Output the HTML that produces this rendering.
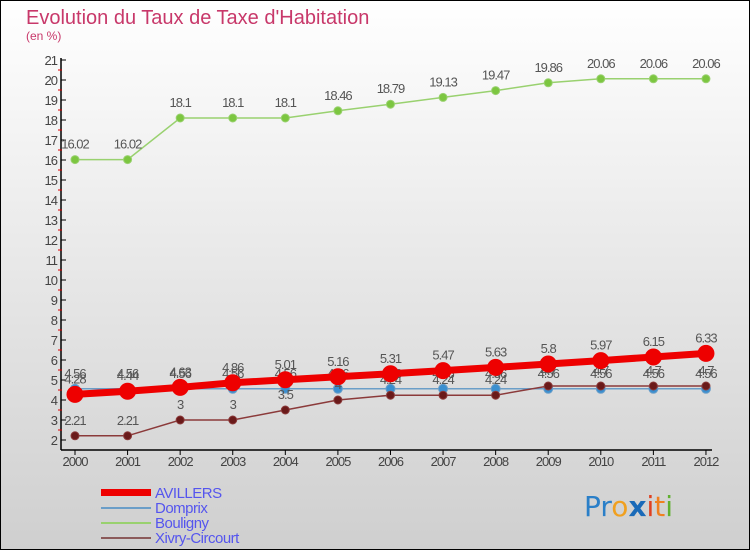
<!DOCTYPE html>
<html><head><meta charset="utf-8"><style>
body{margin:0;width:750px;height:550px;overflow:hidden;font-family:"Liberation Sans",sans-serif}
svg{display:block}
</style></head><body>
<svg id="c" width="750" height="550" xmlns="http://www.w3.org/2000/svg">
<defs><linearGradient id="bg" x1="0" y1="0" x2="0" y2="1"><stop offset="0" stop-color="#ffffff"/><stop offset="1" stop-color="#cfcfcf"/></linearGradient></defs>
<rect x="0.5" y="0.5" width="749" height="549" fill="url(#bg)" stroke="#000"/>
<text x="26" y="24" font-size="20" fill="#c8386a">Evolution du Taux de Taxe d'Habitation</text>
<text x="26" y="40" font-size="12" fill="#c8386a">(en %)</text>
<g id="axes"></g><g id="series"></g>
<g>
<rect x="101" y="489" width="50" height="7" fill="#ee0000"/>
<line x1="101" y1="508" x2="151" y2="508" stroke="#6b9ec8" stroke-width="2"/>
<line x1="101" y1="523" x2="151" y2="523" stroke="#99d16f" stroke-width="2"/>
<line x1="101" y1="538" x2="151" y2="538" stroke="#8b5a5a" stroke-width="2"/>
<g font-size="15" fill="#5555ee" letter-spacing="-0.5">
<text x="155" y="498">AVILLERS</text>
<text x="155" y="513">Domprix</text>
<text x="155" y="528">Bouligny</text>
<text x="155" y="543">Xivry-Circourt</text>
</g></g>
<g font-size="28" font-family="'DejaVu Sans',sans-serif">
<text x="584" y="516"><tspan fill="#2a7fc8">Pr</tspan><tspan fill="#f0a020">o</tspan><tspan fill="#1a6ab8" font-weight="bold">x</tspan><tspan fill="#e04020">i</tspan><tspan fill="#f08020">t</tspan><tspan fill="#60b030">i</tspan></text>
</g>
</svg>
<script>
const years=["2000","2001","2002","2003","2004","2005","2006","2007","2008","2009","2010","2011","2012"];
const yTicks=[2,3,4,5,6,7,8,9,10,11,12,13,14,15,16,17,18,19,20,21];
const avillers=[4.28,4.44,4.63,4.86,5.01,5.16,5.31,5.47,5.63,5.8,5.97,6.15,6.33];
const domprix=[4.56,4.56,4.56,4.56,4.56,4.56,4.56,4.56,4.56,4.56,4.56,4.56,4.56];
const bouligny=[16.02,16.02,18.1,18.1,18.1,18.46,18.79,19.13,19.47,19.86,20.06,20.06,20.06];
const xivry=[2.21,2.21,3,3,3.5,4,4.24,4.24,4.24,4.7,4.7,4.7,4.7];
const NS="http://www.w3.org/2000/svg";
const xS=i=>75+i*52.58, yS=v=>440-(v-2)*20;
function mk(t,a,p){const e=document.createElementNS(NS,t);for(const k in a)e.setAttribute(k,a[k]);p.appendChild(e);return e;}
const ax=document.getElementById('axes');
let l=mk('line',{x1:61,y1:58,x2:61,y2:450,stroke:'#000','stroke-width':1.5},ax);


l=mk('line',{x1:61,y1:450,x2:712,y2:450,stroke:'#000','stroke-width':1.5},ax);


yTicks.forEach(v=>{const y=yS(v);
 mk('line',{x1:61,y1:y,x2:66,y2:y,stroke:'#000'},ax);
 if(v<21)mk('line',{x1:58,y1:y-10,x2:62,y2:y-10,stroke:'#e00000'},ax);
 const t=mk('text',{x:57,y:y+5,'font-size':13,fill:'#444','text-anchor':'end','letter-spacing':'-1'},ax);t.textContent=v;
 
 
});
years.forEach((yr,i)=>{const x=xS(i);
 mk('line',{x1:x,y1:450,x2:x,y2:455,stroke:'#000'},ax);
 const t=mk('text',{x:x,y:466,'font-size':13,fill:'#444','text-anchor':'middle','letter-spacing':'-1'},ax);t.textContent=yr;
 
 
});
const sg=document.getElementById('series');
function series(name,vals,color,w,r,dot){
 const g=mk('g',{},sg);
 
 
 mk('polyline',{points:vals.map((v,i)=>xS(i)+','+yS(v)).join(' '),fill:'none',stroke:color,'stroke-width':w},g);
 vals.forEach((v,i)=>{const c=mk('circle',{cx:xS(i),cy:yS(v),r:r,fill:dot,stroke:color,'stroke-width':1},g);
  
  
  const t=mk('text',{x:xS(i),y:yS(v)-11,'font-size':13,fill:'#555','text-anchor':'middle','letter-spacing':'-1'},g);t.textContent=v;
  
  
 });
}
series('bouligny',bouligny,'#99d16f',1.5,4,'#7cc640');
series('domprix',domprix,'#6b9ec8',1.5,4.5,'#3a8fd0');
series('xivry',xivry,'#8b3a3a',1.5,4,'#6a1a1a');
series('avillers',avillers,'#ee0000',7,8,'#ee0000');
</script>
</body></html>
